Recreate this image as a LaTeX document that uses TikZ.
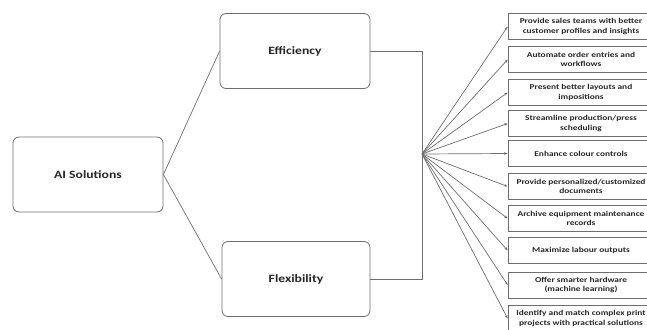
\documentclass[tikz,border=0pt]{standalone}
\usepackage{fontspec}
\setmainfont{Carlito}
\newfontfamily\widefont[FakeStretch=1.22]{Carlito}
\newfontfamily\leaffont[FakeStretch=1.25]{Carlito}
\usetikzlibrary{arrows.meta}
\definecolor{ln}{HTML}{6E6E6E}
\tikzset{
  mainbox/.style={draw=ln, line width=0.8pt, rounded corners=6pt, minimum width=150pt, minimum height=75pt, font=\widefont\bfseries\fontsize{11.2}{13}\selectfont, text=black!85},
  leafbox/.style={draw=ln, line width=0.7pt, minimum width=146pt, minimum height=26pt, font=\leaffont\bfseries\fontsize{7.5}{9.3}\selectfont, text=black!85, align=center, inner sep=1pt},
  conn/.style={draw=ln, line width=0.7pt},
  arr/.style={conn, -{Stealth[length=3.5pt,width=2.6pt]}}
}
\begin{document}
\begin{tikzpicture}[x=1pt,y=-1pt]
\useasboundingbox (0,0) rectangle (647,329);
\begin{scope}
\clip (0,0) rectangle (647,329);
\node[mainbox] (ai) at (88,174.5) {AI Solutions};
\node[mainbox] (eff) at (295,51) {Efficiency};
\node[mainbox, minimum width=148pt] (flex) at (296,279) {Flexibility};
\coordinate (hub) at (422,154);
\draw[conn] (ai.east) -- (eff.west);
\draw[conn] (ai.east) -- (flex.west);
\draw[conn] (eff.east) -| (hub);
\draw[conn] (flex.east) -| (hub);
\node[leafbox] (l1) at (581,26.5) {Provide sales teams with better\\customer profiles and insights};
\node[leafbox] (l2) at (581,59.5) {Automate order entries and\\workflows};
\node[leafbox] (l3) at (581,92.5) {Present better layouts and\\impositions};
\node[leafbox] (l4) at (581,123.5) {Streamline production/press\\scheduling};
\node[leafbox] (l5) at (581,153.5) {Enhance colour controls};
\node[leafbox] (l6) at (581,186.5) {Provide personalized/customized\\documents};
\node[leafbox] (l7) at (581,218.5) {Archive equipment maintenance\\records};
\node[leafbox] (l8) at (581,250.5) {Maximize labour outputs};
\node[leafbox] (l9) at (581,285) {Offer smarter hardware\\(machine learning)};
\node[leafbox] (l10) at (581,318.5) {Identify and match complex print\\projects with practical solutions};
\foreach \i in {1,...,10} {\draw[arr] (hub) -- (l\i.west);}
\end{scope}
\end{tikzpicture}
\end{document}
